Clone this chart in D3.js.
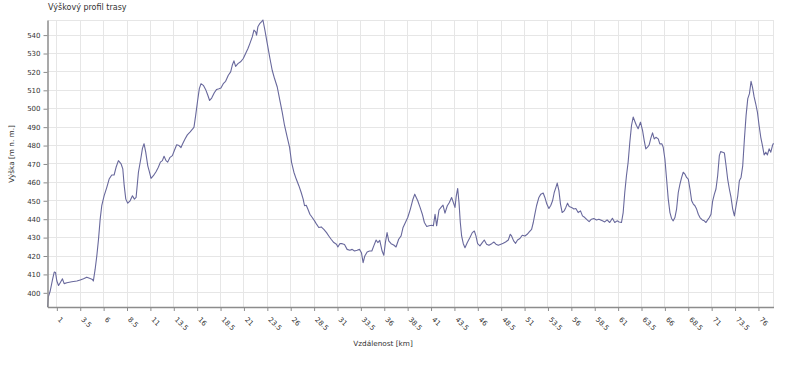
<!DOCTYPE html>
<html lang="cs">
<head>
<meta charset="UTF-8">
<title>Výškový profil trasy</title>
<script src="https://d3js.org/d3.v7.min.js"></script>
<style>
    body { margin: 0; background: #fff; font-family: "DejaVu Sans", sans-serif; }
    .grid line { stroke: #e6e6e6; stroke-width: 1; shape-rendering: crispEdges; }
    .axis path, .axis line { stroke: #8c8c8c; }
    .axis text { fill: #333; font-size: 7px; font-family: "DejaVu Sans", sans-serif; }
</style>
</head>
<body>
<div id="chart"></div>
<script>
// vzdálenost [km]
const distKm = [
    0.0, 0.1, 0.29, 0.54, 0.72, 0.86, 1.0, 1.18, 1.36, 1.6, 1.78, 2.07, 2.6, 3.14, 3.5, 3.85, 4.2, 4.56, 4.8, 4.9,
    5.09, 5.27, 5.45, 5.63, 5.8, 6.05, 6.34, 6.59, 6.87, 7.12, 7.33, 7.58, 7.87, 8.05, 8.2, 8.37, 8.58, 8.83, 9.08, 9.29,
    9.47, 9.72, 9.97, 10.15, 10.32, 10.5, 10.72, 10.86, 11.07, 11.32, 11.6, 11.85, 12.07, 12.28, 12.46, 12.67, 12.85, 13.1, 13.35, 13.56,
    13.81, 14.06, 14.27, 14.45, 14.7, 14.95, 15.23, 15.52, 15.66, 15.84, 16.05, 16.23, 16.41, 16.66, 16.9, 17.12, 17.33, 17.55, 17.83, 18.08,
    18.33, 18.54, 18.79, 19.04, 19.33, 19.58, 19.75, 19.93, 20.11, 20.36, 20.64, 20.93, 21.18, 21.43, 21.64, 21.89, 22.07, 22.25, 22.35, 22.49,
    22.71, 22.89, 23.03, 23.24, 23.49, 23.78, 24.02, 24.27, 24.56, 24.84, 25.09, 25.34, 25.63, 25.88, 26.09, 26.34, 26.59, 26.87, 27.12, 27.33,
    27.48, 27.66, 27.83, 28.05, 28.3, 28.55, 28.76, 29.0, 29.26, 29.54, 29.83, 30.07, 30.32, 30.61, 30.89, 31.04, 31.25, 31.5, 31.75, 32.03,
    32.32, 32.57, 32.82, 33.1, 33.35, 33.56, 33.74, 33.92, 34.17, 34.42, 34.67, 34.88, 35.13, 35.31, 35.52, 35.77, 35.95, 36.12, 36.3, 36.48,
    36.73, 37.01, 37.26, 37.54, 37.8, 38.01, 38.26, 38.51, 38.79, 39.04, 39.26, 39.58, 39.83, 40.07, 40.29, 40.54, 40.79, 41.07, 41.25, 41.43,
    41.6, 41.85, 42.07, 42.28, 42.49, 42.74, 42.96, 43.2, 43.38, 43.56, 43.7, 43.85, 43.99, 44.13, 44.27, 44.45, 44.63, 44.88, 45.16, 45.41,
    45.63, 45.8, 45.98, 46.23, 46.48, 46.69, 46.94, 47.19, 47.48, 47.73, 47.94, 48.19, 48.47, 48.72, 48.97, 49.26, 49.47, 49.61, 49.83, 50.04,
    50.25, 50.5, 50.75, 51.04, 51.28, 51.5, 51.75, 51.93, 52.1, 52.28, 52.53, 52.74, 52.99, 53.17, 53.38, 53.6, 53.81, 53.99, 54.17, 54.35,
    54.49, 54.67, 54.84, 55.02, 55.23, 55.41, 55.59, 55.77, 56.02, 56.27, 56.48, 56.73, 56.98, 57.19, 57.44, 57.69, 57.9, 58.15, 58.4, 58.69,
    58.94, 59.32, 59.57, 59.82, 60.1, 60.39, 60.64, 60.89, 61.11, 61.36, 61.54, 61.71, 61.89, 62.07, 62.25, 62.43, 62.61, 62.79, 62.96, 63.14,
    63.39, 63.61, 63.79, 63.96, 64.14, 64.32, 64.5, 64.68, 64.86, 65.04, 65.29, 65.46, 65.68, 65.82, 66.0, 66.18, 66.36, 66.54, 66.71, 66.89,
    67.07, 67.25, 67.43, 67.61, 67.79, 67.96, 68.14, 68.32, 68.5, 68.68, 68.86, 69.04, 69.21, 69.39, 69.57, 69.75, 70.0, 70.21, 70.39, 70.57,
    70.75, 70.93, 71.11, 71.29, 71.46, 71.64, 71.82, 71.96, 72.18, 72.36, 72.54, 72.71, 72.89, 73.07, 73.25, 73.43, 73.61, 73.79, 73.96, 74.14,
    74.32, 74.5, 74.68, 74.86, 75.04, 75.21, 75.36, 75.54, 75.71, 75.89, 76.07, 76.25, 76.43, 76.61, 76.79, 76.96, 77.14, 77.32, 77.5, 77.61
];

// výška [m n. m.]
const elevM = [
    392.3, 398, 401, 407.3, 411.3, 411, 406.4, 404, 405.5, 407.6, 405, 405.5, 406, 406.4, 407, 407.6, 408.5, 407.8, 407.3, 406.4,
    412.7, 420, 429, 440, 447.3, 452.7, 457.3, 461.8, 464, 464, 468.2, 471.8, 470, 467.3, 458.2, 450.9, 448.7, 450, 452.7, 450.9,
    451.8, 465.5, 472.7, 478.5, 481, 476.4, 469, 466.4, 462.2, 463.6, 465.8, 468.2, 471, 471.8, 474.2, 471.8, 471, 473.6, 474.5, 477.3,
    480.4, 480, 478.9, 481, 483.6, 485.8, 487.3, 489, 490, 496.4, 504.5, 510.9, 513.6, 512.7, 510.5, 507.6, 504.5, 505.8, 508.7, 510.5,
    510.9, 511.3, 513.6, 514.9, 518.2, 520, 523.6, 526, 523, 524.5, 525.5, 527.3, 530, 532.7, 535.5, 539, 542.7, 541.8, 540, 544.5,
    546.4, 547.3, 548.2, 542.7, 535.5, 527.3, 520.9, 516.4, 511.8, 504.5, 498.2, 490.9, 484.5, 479, 470.9, 465.5, 461.8, 458.2, 454.5, 450.9,
    447.3, 447.6, 445.5, 442.7, 440.9, 439.1, 437.3, 435.5, 435.8, 434.5, 432.7, 430.9, 429.1, 427.3, 426.4, 424.9, 426.7, 426.7, 426.2, 423.6,
    423.1, 423.6, 422.7, 423.1, 423.6, 421.8, 416.4, 420, 422.2, 422.7, 422.7, 425.5, 428.7, 427.3, 428.5, 422.7, 420.4, 427.3, 432.7, 428.2,
    426.7, 426, 424.9, 429.1, 430.9, 435.5, 438.2, 440.9, 445.5, 450.4, 453.6, 450, 446.4, 442.7, 438.2, 436, 436.4, 436.7, 436.4, 442.7,
    436.4, 445, 446.4, 447.6, 443.3, 447.3, 449.1, 451.8, 449.1, 446.4, 452.7, 456.7, 449.1, 438.2, 430.9, 426.7, 424.5, 427.3, 430, 432.7,
    433.6, 430.9, 426.7, 425.5, 427.3, 428.7, 426.4, 425.8, 426.7, 427.6, 426.4, 425.8, 426.4, 426.9, 427.6, 428.7, 431.8, 430.9, 428.2, 426.9,
    428.7, 429.5, 431.3, 430.9, 431.8, 433.1, 434.5, 438.2, 442.7, 447.3, 451.8, 453.6, 454.2, 451.8, 448.2, 445.8, 447.6, 450, 454.5, 457.3,
    459.6, 455.5, 448.2, 443.6, 444.5, 446.4, 448.7, 446.9, 446.4, 445.5, 445.8, 443.6, 444.5, 441.8, 440.9, 439.6, 438.7, 440, 440.4, 439.6,
    440, 439.1, 438.5, 439.6, 438.2, 440.5, 438.2, 439.1, 438.5, 438.2, 443.6, 454.5, 463.6, 470.9, 481.8, 490.9, 495.5, 493.1, 490.9, 489.1,
    492.7, 488.2, 482.7, 478.2, 479.1, 480.4, 484, 486.9, 483.6, 484.5, 483.6, 480.9, 480.9, 479.1, 472.7, 461.8, 450.9, 443.6, 440.4, 439.1,
    440.9, 445.5, 454.5, 459.1, 462.7, 465.5, 464.5, 462.7, 461.8, 456.4, 450, 448.2, 447.3, 445.5, 442.7, 440.9, 439.6, 439.1, 438.2, 439.6,
    440.9, 442.7, 450, 453.6, 456.4, 463.6, 474.5, 476.7, 476.4, 476, 469, 461.8, 456.4, 451.8, 445.5, 441.8, 447.3, 452.7, 460.9, 462.7,
    469, 483.6, 496.4, 505.5, 508.2, 514.9, 511.8, 506.4, 502.7, 498.2, 490.9, 484.5, 480, 474.9, 476.4, 474.9, 478.2, 476.4, 480, 481.3
];

const xTicks = [1, 3.5, 6, 8.5, 11, 13.5, 16, 18.5, 21, 23.5, 26, 28.5, 31, 33.5, 36, 38.5, 41, 43.5, 46, 48.5,
                51, 53.5, 56, 58.5, 61, 63.5, 66, 68.5, 71, 73.5, 76];
const yTicks = [400, 410, 420, 430, 440, 450, 460, 470, 480, 490, 500, 510, 520, 530, 540];

const W = 800, H = 367;
const plotLeft = 47.5, plotRight = 773.5, plotTop = 20, plotBottom = 307;

const data = distKm.map((d, i) => ({ km: d, m: elevM[i] }));

const svg = d3.select("#chart").append("svg")
    .attr("width", W)
    .attr("height", H);

const x = d3.scaleLinear().domain(d3.extent(distKm)).range([plotLeft, plotRight]);
const y = d3.scaleLinear().domain(d3.extent(elevM)).range([plotBottom, plotTop]);

// mřížka
const grid = svg.append("g").attr("class", "grid");
grid.selectAll(".gx").data(xTicks).enter().append("line")
    .attr("x1", d => x(d)).attr("x2", d => x(d))
    .attr("y1", plotTop).attr("y2", plotBottom);
grid.selectAll(".gy").data(yTicks).enter().append("line")
    .attr("x1", plotLeft).attr("x2", plotRight)
    .attr("y1", d => y(d)).attr("y2", d => y(d));
grid.append("line").attr("x1", plotLeft).attr("x2", plotRight).attr("y1", plotTop).attr("y2", plotTop);
grid.append("line").attr("x1", plotRight).attr("x2", plotRight).attr("y1", plotTop).attr("y2", plotBottom);

// profil
svg.append("path")
    .datum(data)
    .attr("fill", "none")
    .attr("stroke", "#68689c")
    .attr("stroke-width", 1.1)
    .attr("stroke-linejoin", "round")
    .attr("d", d3.line().x(d => x(d.km)).y(d => y(d.m)));

// osy
const xAxis = svg.append("g")
    .attr("class", "axis")
    .attr("transform", `translate(0,${plotBottom})`)
    .call(d3.axisBottom(x).tickValues(xTicks).tickSize(4).tickSizeOuter(0).tickFormat(d3.format("")));
xAxis.select(".domain").attr("stroke-width", 1.5);
xAxis.selectAll("text")
    .attr("text-anchor", "start")
    .attr("y", 0)
    .attr("dy", 0)
    .attr("transform", "translate(0,13) rotate(45)");

const yAxis = svg.append("g")
    .attr("class", "axis")
    .attr("transform", `translate(${plotLeft},0)`)
    .call(d3.axisLeft(y).tickValues(yTicks).tickSize(4).tickSizeOuter(0).tickPadding(3));
yAxis.select(".domain").attr("stroke-width", 1.5);

// popisky
svg.append("text")
    .attr("x", 48).attr("y", 10)
    .attr("fill", "#333")
    .style("font-size", "8px")
    .text("Výškový profil trasy");

svg.append("text")
    .attr("x", 383).attr("y", 346)
    .attr("text-anchor", "middle")
    .attr("fill", "#333")
    .style("font-size", "7.3px")
    .text("Vzdálenost [km]");

svg.append("text")
    .attr("transform", "translate(14,154) rotate(-90)")
    .attr("text-anchor", "middle")
    .attr("fill", "#333")
    .style("font-size", "7.3px")
    .text("Výška [m n. m.]");
</script>
</body>
</html>
